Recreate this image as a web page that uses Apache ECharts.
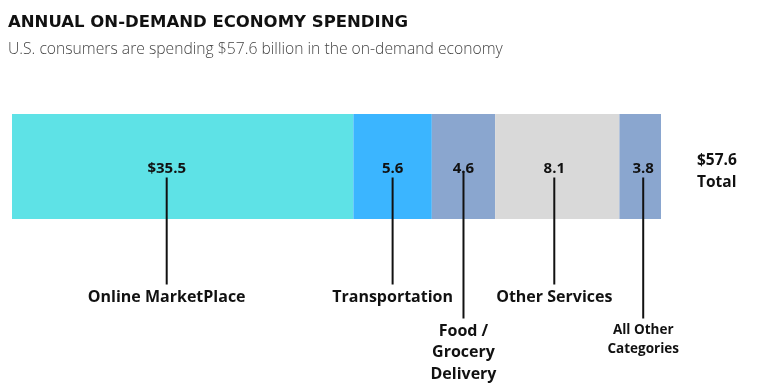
<!DOCTYPE html>
<html>
<head>
<meta charset="utf-8">
<script src="https://cdn.jsdelivr.net/npm/echarts@6/dist/echarts.min.js"></script>
<style>
  html, body { margin: 0; padding: 0; background: #ffffff; }
  #chart { width: 768px; height: 384px; }
</style>
</head>
<body>
<div id="chart"></div>
<script>
// ---- data ----
const titleText = 'ANNUAL ON-DEMAND ECONOMY SPENDING';
const subtitleText = 'U.S. consumers are spending $57.6 billion in the on-demand economy';
const categories = ['Online MarketPlace', 'Transportation', 'Food /\nGrocery\nDelivery', 'Other Services', 'All Other\nCategories'];
const valueLabels = ['$35.5', '5.6', '4.6', '8.1', '3.8'];
// segment lengths as drawn in the picture (billions, display scale)
const barLengths = [30.3, 6.96, 5.62, 11.03, 3.69];
const totalLabel = '$57.6\nTotal';
const rowName = ['Spending'];

// ---- styles ----
const colors = ['#5ee2e6', '#3bb5ff', '#8aa6cf', '#d9d9d9', '#8aa6cf'];
const anchorShiftPx = [-16, 0, 0, -3, 3];
const labelLevel = [0, 0, 1, 0, 1];
const FONT = '"Open Sans", "Liberation Sans", sans-serif';

const total = barLengths.reduce((a, b) => a + b, 0);
const starts = [];
barLengths.reduce((acc, v, i) => { starts[i] = acc; return acc + v; }, 0);

const barSeries = barLengths.map((v, i) => ({
  type: 'bar',
  name: categories[i],
  stack: 'all',
  data: [v],
  barWidth: '100%',
  itemStyle: { color: colors[i] },
  silent: true,
  label: {
    show: true,
    position: 'inside',
    offset: [anchorShiftPx[i], 2],
    formatter: () => valueLabels[i],
    fontFamily: FONT,
    fontWeight: 'bold',
    fontSize: 15,
    color: '#111'
  }
}));

const leaderSeries = {
  type: 'custom',
  silent: true,
  z: 5,
  data: categories.map((c, i) => [starts[i], barLengths[i], i]),
  renderItem: function (params, api) {
    const s = api.value(0), len = api.value(1), i = api.value(2);
    const p0 = api.coord([s, 0]);
    const p1 = api.coord([s + len, 0]);
    const cx = (p0[0] + p1[0]) / 2 + anchorShiftPx[i];
    const cy = p0[1];
    const yStart = cy + (i === 2 ? 5 : 11);
    const yEnd = cy + (labelLevel[i] === 0 ? 118 : 152);
    const small = i === 4;
    return {
      type: 'group',
      children: [
        {
          type: 'line',
          shape: { x1: cx, y1: yStart, x2: cx, y2: yEnd },
          style: { stroke: '#111', lineWidth: 2 }
        },
        {
          type: 'text',
          x: cx,
          y: yEnd + 2,
          style: {
            text: categories[i],
            fontFamily: FONT,
            fontWeight: 'bold',
            fontSize: small ? 13.5 : 16,
            lineHeight: small ? 19 : 21.5,
            fill: '#111',
            align: 'center',
            verticalAlign: 'top'
          }
        }
      ]
    };
  }
};

const totalSeries = {
  type: 'custom',
  silent: true,
  data: [[total]],
  renderItem: function (params, api) {
    const p = api.coord([api.value(0), 0]);
    return {
      type: 'text',
      x: p[0] + 36,
      y: p[1] + 5,
      style: {
        text: totalLabel,
        fontFamily: FONT,
        fontWeight: 'bold',
        fontSize: 15.5,
        lineHeight: 22,
        fill: '#111',
        align: 'left',
        verticalAlign: 'middle'
      }
    };
  }
};

const chart = echarts.init(document.getElementById('chart'), null, { renderer: 'canvas' });
chart.setOption({
  backgroundColor: '#ffffff',
  animation: false,
  title: [
    {
      text: titleText,
      left: 3,
      top: 9,
      textStyle: { fontFamily: '"DejaVu Sans", sans-serif', fontWeight: 'bold', fontSize: 16.5, color: '#111' }
    },
    {
      text: subtitleText,
      left: 3,
      top: 37,
      textStyle: { fontFamily: FONT, fontWeight: 300, fontSize: 15.7, color: '#444' }
    }
  ],
  grid: { left: 12, top: 114, width: 649, height: 105, containLabel: false },
  xAxis: { type: 'value', min: 0, max: total, show: false },
  yAxis: { type: 'category', data: rowName, show: false },
  series: barSeries.concat([leaderSeries, totalSeries])
});
</script>
</body>
</html>
